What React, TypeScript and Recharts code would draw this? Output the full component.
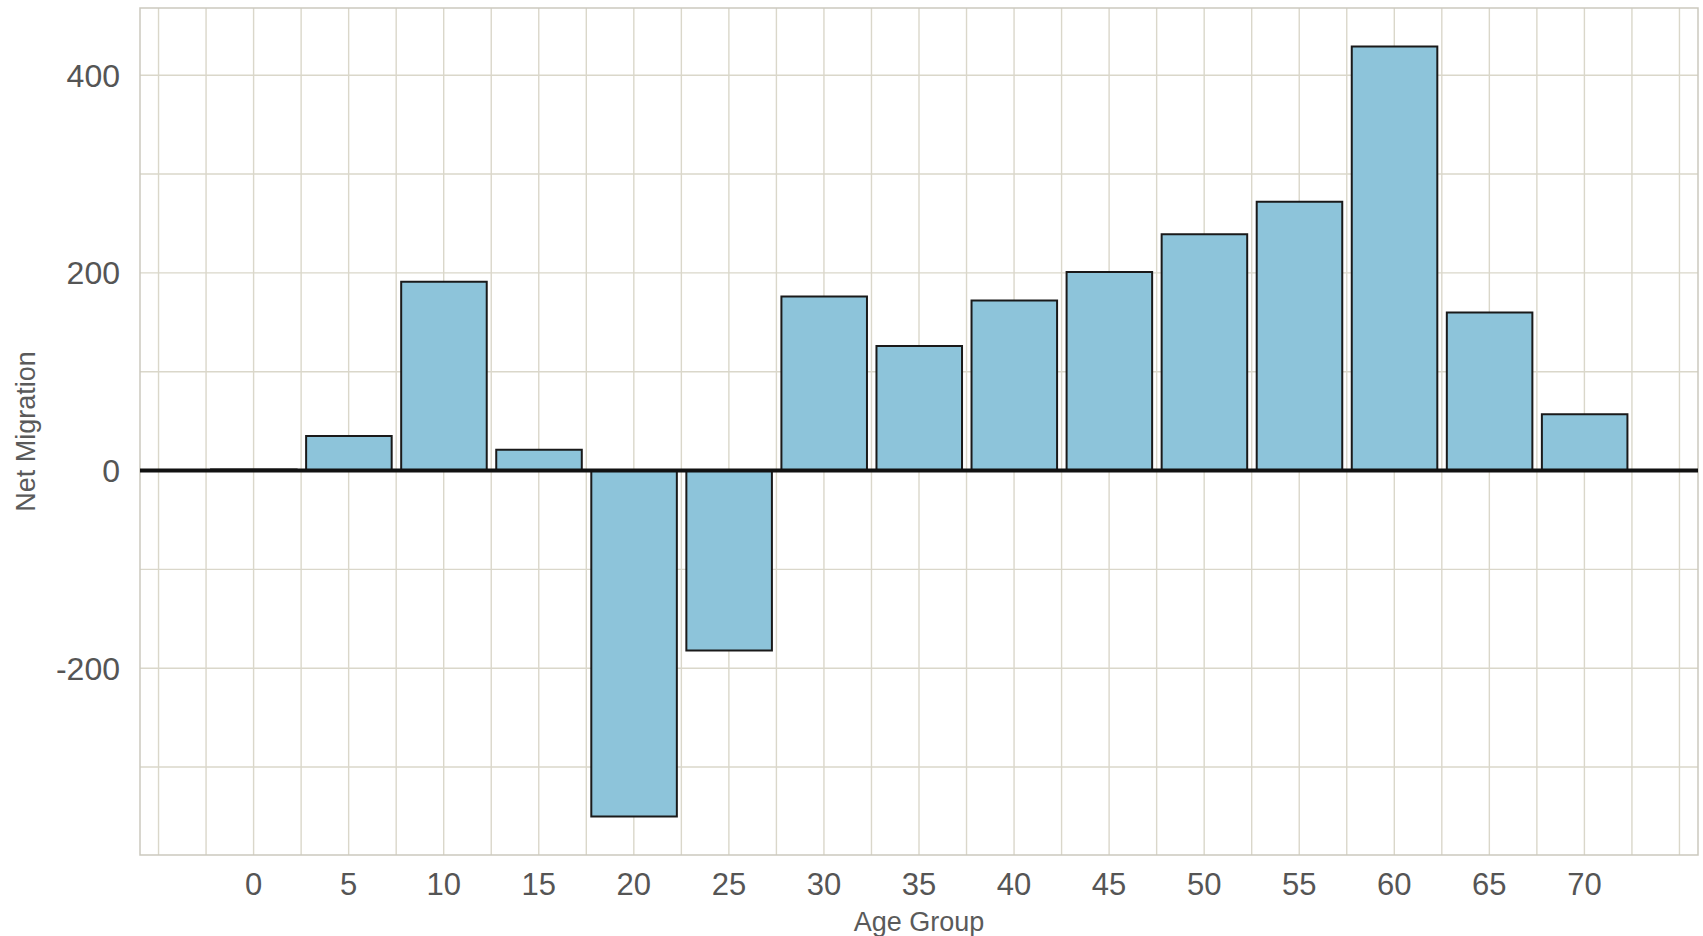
import React from "react";
import { BarChart, Bar, XAxis, YAxis, CartesianGrid, ReferenceLine, ReferenceArea } from "recharts";

// age groups (bar centres) and net migration
const ageGroups = [0, 5, 10, 15, 20, 25, 30, 35, 40, 45, 50, 55, 60, 65, 70];
const netMigration = [1, 35, 191, 21, -350, -182, 176, 126, 172, 201, 239, 272, 429, 160, 57];

const xTicks = [0, 5, 10, 15, 20, 25, 30, 35, 40, 45, 50, 55, 60, 65, 70];
const yTicks = [-200, 0, 200, 400];
const xGrid = [-5, -2.5, 0, 2.5, 5, 7.5, 10, 12.5, 15, 17.5, 20, 22.5, 25, 27.5, 30, 32.5, 35, 37.5, 40, 42.5, 45, 47.5, 50, 52.5, 55, 57.5, 60, 62.5, 65, 67.5, 70, 72.5, 75];
const yGrid = [-300, -200, -100, 0, 100, 200, 300, 400];

const xDomain = [-5.975, 75.975];
const yDomain = [-389, 468];

const data = ageGroups.map((age, i) => ({ age, net: netMigration[i] }));

const FONT = "'Liberation Sans', Arial, sans-serif";

const App = () => {
  const plotWidth = 1703 - 140 - 5;
  const barSize = (4.5 / (xDomain[1] - xDomain[0])) * plotWidth;

  return (
    <div style={{ position: "absolute", left: 0, top: 0, width: 1703, height: 936, background: "#fff" }}>
      <BarChart
        width={1703}
        height={936}
        data={data}
        margin={{ top: 8, right: 5, bottom: 0, left: 0 }}
        style={{ fontFamily: FONT }}
      >
        <CartesianGrid
          stroke="#dad7ca"
          strokeWidth={1.4}
          horizontalValues={yGrid}
          verticalValues={xGrid}
        />
        <ReferenceArea
          x1={xDomain[0]}
          x2={xDomain[1]}
          y1={yDomain[0]}
          y2={yDomain[1]}
          fill="none"
          stroke="#cbc9be"
          strokeWidth={1.5}
        />
        <XAxis
          dataKey="age"
          type="number"
          domain={xDomain}
          ticks={xTicks}
          height={81}
          axisLine={false}
          tickLine={false}
          tickSize={0}
          tickMargin={18}
          tick={{ fill: "#555", fontSize: 31, fontFamily: FONT }}
          label={{
            value: "Age Group",
            position: "insideBottom",
            offset: 5,
            fill: "#5a5a5a",
            fontSize: 27,
            fontFamily: FONT,
          }}
        />
        <YAxis
          type="number"
          domain={yDomain}
          ticks={yTicks}
          width={140}
          axisLine={false}
          tickLine={false}
          tickSize={0}
          tickMargin={20}
          tick={{ fill: "#555", fontSize: 32, fontFamily: FONT }}
          label={{
            value: "Net Migration",
            angle: -90,
            position: "insideLeft",
            offset: 25,
            fill: "#5a5a5a",
            fontSize: 27,
            fontFamily: FONT,
            style: { textAnchor: "middle" },
          }}
        />
        <Bar
          dataKey="net"
          fill="#8dc4da"
          stroke="#1a1a1a"
          strokeWidth={2}
          barSize={barSize}
          isAnimationActive={false}
        />
        <ReferenceLine y={0} stroke="#111" strokeWidth={4} />
      </BarChart>
    </div>
  );
};

export default App;
